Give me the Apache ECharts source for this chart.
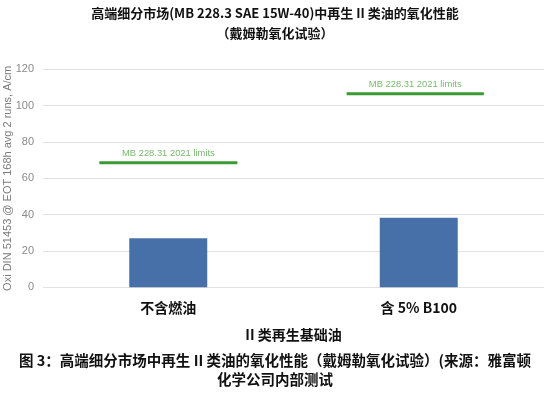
<!DOCTYPE html>
<html><head><meta charset="utf-8">
<script src="https://cdn.jsdelivr.net/npm/echarts@6/dist/echarts.min.js"></script>
<style>html,body{margin:0;padding:0;background:#fff}#c{width:550px;height:396px}</style>
</head><body><div id="c"></div>
<script>
const categories = ['不含燃油', '含 5% B100'];
const oxidationValues = [27.0, 38.3];
const limitValues = [68.6, 106.5];
const limitLabel = 'MB 228.31 2021 limits';
const limitSpans = [[0.225, 0.776], [1.212, 1.76]];
const yTicks = [0, 20, 40, 60, 80, 100, 120];
const titleLines = ['高端细分市场(MB 228.3 SAE 15W-40)中再生 II 类油的氧化性能', '（戴姆勒氧化试验）'];
const captionLines = ['图 3：高端细分市场中再生 II 类油的氧化性能（戴姆勒氧化试验）(来源：雅富顿', '化学公司内部测试'];
const yAxisName = 'Oxi DIN 51453 @ EOT 168h avg 2 runs, A/cm';
const xAxisName = 'II 类再生基础油';

const cjk = '"Noto Sans CJK SC", "Liberation Sans", sans-serif';
const limitLineData = [];
limitSpans.forEach((s, i) => {
  if (i > 0) limitLineData.push(null);
  limitLineData.push([s[0], limitValues[i]], [s[1], limitValues[i]]);
});
const limitLabelData = limitSpans.map((s, i) => [(s[0] + s[1]) / 2, limitValues[i]]);

const chart = echarts.init(document.getElementById('c'));
chart.setOption({
  animation: false,
  backgroundColor: '#fff',
  graphic: [
    { type: 'text', left: 'center', top: 7, style: { text: titleLines[0], font: 'bold 13px ' + cjk, fill: '#111' } },
    { type: 'text', left: 'center', top: 27, style: { text: titleLines[1], font: 'bold 13px ' + cjk, fill: '#111' } },
    { type: 'text', left: 'center', top: 353, style: { text: captionLines[0], font: 'bold 14.5px ' + cjk, fill: '#111' } },
    { type: 'text', left: 'center', top: 372, style: { text: captionLines[1], font: 'bold 14.5px ' + cjk, fill: '#111' } }
  ],
  grid: { left: 43, right: 6, top: 69.3, bottom: 108.7, containLabel: false, outerBoundsMode: 'none' },
  xAxis: [
    {
      type: 'category', data: categories,
      axisLine: { show: false }, axisTick: { show: false },
      axisLabel: { margin: 13, fontSize: 14, color: '#111', fontFamily: cjk, fontWeight: 'bold' },
      name: xAxisName, nameLocation: 'middle', nameGap: 40, nameMoveOverlap: false,
      nameTextStyle: { fontSize: 14, color: '#111', fontFamily: cjk, fontWeight: 'bold' }
    },
    { type: 'value', min: 0, max: 2, show: false }
  ],
  yAxis: {
    type: 'value', min: yTicks[0], max: yTicks[yTicks.length - 1], interval: 20,
    axisLine: { show: false }, axisTick: { show: false },
    axisLabel: { color: '#8a8a8a', fontSize: 11, margin: 9, fontFamily: 'Liberation Sans' },
    splitLine: { lineStyle: { color: '#e2e2e2', width: 1 } },
    name: yAxisName, nameLocation: 'middle', nameGap: 30, nameRotate: 90, nameMoveOverlap: false,
    nameTextStyle: { color: '#7a7a7a', fontSize: 11, fontFamily: 'Liberation Sans' }
  },
  series: [
    {
      type: 'bar', data: oxidationValues, barWidth: 78, xAxisIndex: 0,
      itemStyle: { color: '#4770a8' }
    },
    {
      type: 'line', xAxisIndex: 1, data: limitLineData, connectNulls: false,
      symbol: 'none', lineStyle: { color: '#3a9b36', width: 3 }
    },
    {
      type: 'scatter', xAxisIndex: 1, data: limitLabelData, symbolSize: 0,
      label: { show: true, position: 'top', distance: 5, formatter: limitLabel,
        color: '#56a84a', fontSize: 9.4, fontFamily: 'Liberation Sans' }
    }
  ]
});
</script></body></html>
